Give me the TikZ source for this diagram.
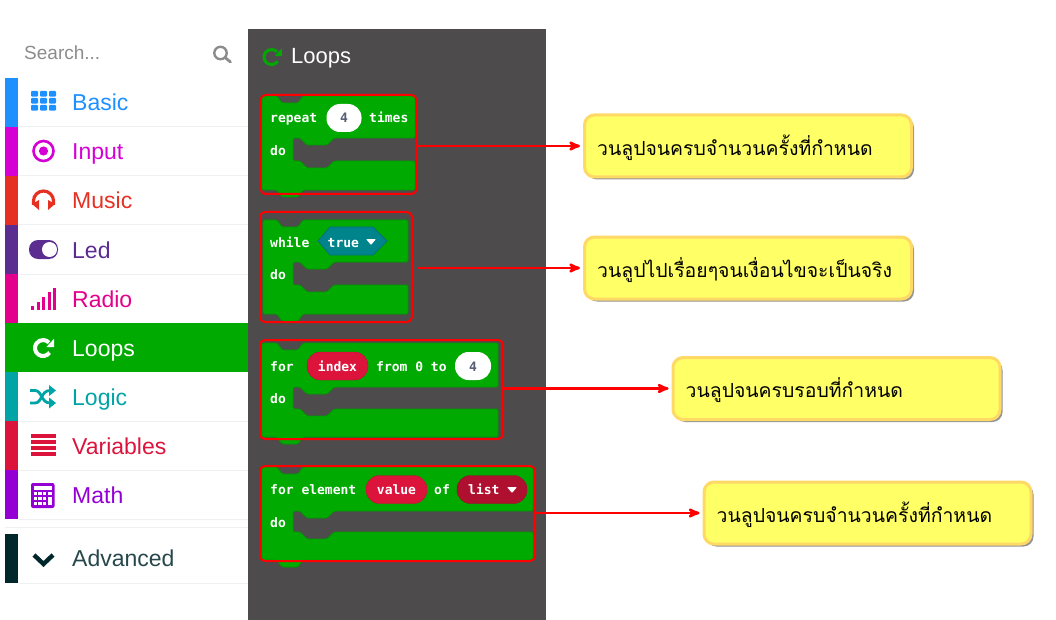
\documentclass[tikz,border=0pt]{standalone}
\usepackage{fontspec}
\usetikzlibrary{arrows,shadows}
\setmainfont{Liberation Sans}
\newfontfamily\thaifont[Script=Thai]{Loma}
\newfontfamily\blockfont{DejaVu Sans Mono}

\definecolor{cBasic}{HTML}{1E90FF}
\definecolor{cInput}{HTML}{D400D4}
\definecolor{cMusic}{HTML}{E63022}
\definecolor{cLed}{HTML}{5C2D91}
\definecolor{cRadio}{HTML}{E3008C}
\definecolor{cLoops}{HTML}{00AA00}
\definecolor{cLogic}{HTML}{00A4A6}
\definecolor{cVariables}{HTML}{DC143C}
\definecolor{cMath}{HTML}{9400D3}
\definecolor{cAdvanced}{HTML}{00272B}
\definecolor{cPanel}{HTML}{4D4B4C}
\definecolor{cEdge}{HTML}{009A00}
\definecolor{cRule}{HTML}{EEF1F3}
\definecolor{cList}{HTML}{B0102F}
\definecolor{cTrue}{HTML}{00848C}
\definecolor{cNum}{HTML}{575E75}
\definecolor{cNote}{HTML}{FFFF66}
\definecolor{cNoteEdge}{HTML}{FFD966}

\tikzset{
  rowtext/.style = {anchor=base west, font=\fontsize{23}{26}\selectfont},
  blocktext/.style = {anchor=base west, text=white, inner sep=0pt,
                      font=\blockfont\bfseries\fontsize{13}{15}\selectfont},
  pill/.style = {rectangle, rounded corners=13.5pt, minimum height=28pt, inner sep=0pt,
                 text height=10pt, text depth=0pt,
                 text=white, font=\blockfont\bfseries\fontsize{13}{15}\selectfont},
  redbox/.style = {rectangle, draw=red, line width=2pt, rounded corners=5pt, inner sep=0pt},
  notebox/.style = {rectangle, draw=cNoteEdge, fill=cNote, line width=3pt, rounded corners=10pt,
                    minimum width=327pt, minimum height=62pt, inner sep=0pt,
                    drop shadow={shadow xshift=2.5pt, shadow yshift=-2.5pt, fill=black!60, opacity=.7}},
  notetext/.style = {anchor=west, inner sep=0pt, font=\thaifont\fontsize{19.4}{24}\selectfont},
  redarrow/.style = {->, >=stealth', draw=red, line width=2.5pt, shorten >=3pt}
}

% x0, x1, top, head bottom, cavity bottom, foot
\newcommand{\blockshape}[6]{
  \draw[fill=cLoops, draw=cEdge, line width=.8pt, rounded corners=1.5pt]
    (#1,#3) -- (277,#3) -- (282,#3+7) -- (298,#3+7) -- (303,#3) -- (#2,#3)
    -- (#2,#4) -- (334,#4) -- (327,#4+7) -- (307,#4+7) -- (300,#4) -- (293,#4)
    -- (293,#5) -- (300,#5) -- (307,#5+7) -- (327,#5+7) -- (334,#5) -- (#2,#5)
    -- (#2,#6) -- (303,#6) -- (298,#6+7) -- (282,#6+7) -- (277,#6) -- (#1,#6) -- cycle;
}
% centre x, centre y, radius, line width, colour
\newcommand{\loopicon}[5]{
  \draw[#5, line width=#4pt] (#1,#2) ++(-35:#3pt) arc[start angle=-35, end angle=-318, radius=#3pt];
  \fill[#5] (#1+1.38*#3,#2-1.15*#3) -- (#1+1.38*#3,#2-.1*#3) -- (#1+.4*#3,#2-.1*#3) -- cycle;
}
% small white drop-down triangle
\newcommand{\droptri}[2]{
  \fill[white, rounded corners=.8pt] (#1-5,#2-3) -- (#1+5,#2-3) -- (#1,#2+3) -- cycle;
}

\begin{document}
\begin{tikzpicture}[x=1pt,y=-1pt]
    \useasboundingbox (0,0) rectangle (1056,620);

    % side menu
    \node[anchor=base west, text=black!45, inner sep=0pt, font=\fontsize{19}{22}\selectfont] (search) at (24,60) {Search...};
    \draw[black!45, line width=2.4pt] (220.5,53) circle[radius=6.2pt];
    \draw[black!45, line width=2.8pt, line cap=round] (225,57.5) -- (230.5,62);

    \foreach \rowname/\rowtop/\rowbase in {Basic/78/111, Input/127/160, Music/176/209, Led/225/258, Radio/274/307,
                                           Logic/372/405, Variables/421/454, Math/470/503} {
        \fill[c\rowname] (5,\rowtop) rectangle (18,\rowtop+49);
        \draw[cRule, line width=1pt] (19,\rowtop+49) -- (248,\rowtop+49);
        \node[rowtext, text=c\rowname, inner sep=0pt] (lbl\rowname) at (72,\rowbase) {\rowname};
    }
    \fill[cLoops] (5,323) rectangle (248,372);
    \node[rowtext, text=white, inner sep=0pt] (lblLoops) at (72,356) {Loops};
    \draw[cRule, line width=1pt] (5,527.5) -- (248,527.5);
    \fill[cAdvanced] (5,534) rectangle (18,583);
    \draw[cRule, line width=1pt] (19,583) -- (248,583);
    \node[rowtext, text=cAdvanced!85!white, inner sep=0pt] (lblAdvanced) at (72,566) {Advanced};

    % menu icons
    \foreach \i in {0,1,2} \foreach \j in {0,1,2}
        \fill[cBasic, rounded corners=1pt] (31+9*\i,91+7*\j) rectangle ++(7,5.6);
    \draw[cInput, line width=2.6pt] (43.5,151) circle[radius=10pt];
    \fill[cInput] (43.5,151) circle[radius=4.6pt];
    \draw[cMusic, line width=3.2pt] (33.5,205) -- (33.5,201) arc[start angle=180, end angle=0, radius=10pt] -- (53.5,205);
    \fill[cMusic] (32,204) -- (39,200) -- (39,210) -- cycle;
    \fill[cMusic] (55,204) -- (48,200) -- (48,210) -- cycle;
    \fill[cLed, rounded corners=9pt] (29,240) rectangle (58,259);
    \fill[white] (49.5,249.5) circle[radius=7.5pt];
    \foreach \bx/\bt in {31/306, 36.5/302, 42/297, 47.5/292, 53/288}
        \fill[cRadio] (\bx,\bt) rectangle (\bx+3,310);
    \loopicon{43}{348}{8}{4}{white}
    \draw[cLogic, line width=2.8pt] (30,390.5) -- (35,390.5) .. controls (42,390.5) and (41,403) .. (50,403);
    \draw[cLogic, line width=2.8pt] (30,403) -- (35,403) .. controls (42,403) and (41,390.5) .. (50,390.5);
    \fill[cLogic] (49,385) -- (56,390.5) -- (49,396) -- cycle;
    \fill[cLogic] (49,397.5) -- (56,403) -- (49,408.5) -- cycle;
    \foreach \sy in {436,442,448,454}
        \fill[cVariables] (31,\sy-1.6) rectangle (56,\sy+1.6);
    \fill[cMath, rounded corners=2pt] (31,483) rectangle (54.5,508);
    \fill[white] (33.5,485.5) rectangle (52,489.5);
    \foreach \i in {0,1,2} \foreach \j in {0,1,2}
        \fill[white] (33.5+4.8*\i,491.8+5*\j) rectangle ++(3.2,3.4);
    \fill[white] (33.5+14.4,491.8) rectangle ++(3.6,3.4);
    \fill[white] (33.5+14.4,496.8) rectangle ++(3.6,8.4);
    \draw[cAdvanced, line width=4.4pt] (34,555) -- (43.5,564) -- (53,555);

    % block panel
    \node[rectangle, fill=cPanel, minimum width=298pt, minimum height=591pt, inner sep=0pt] (panel) at (397,324.5) {};
    \loopicon{271.5}{57}{7.5}{3}{cLoops}
    \node[anchor=base west, text=white, inner sep=0pt, font=\fontsize{22}{26}\selectfont] (panelhead) at (291,64) {Loops};

    % repeat
    \blockshape{262}{415}{96}{138}{161}{190}
    \node[blocktext] (rptword) at (270,123) {repeat};
    \node[pill, fill=white, text=cNum, minimum width=35pt] (rptnum) at (344,118) {4};
    \node[blocktext] (rpttimes) at (369,123) {times};
    \node[blocktext] (rptdo) at (270,155.5) {do};

    % while
    \blockshape{263}{408}{220}{262}{285}{314}
    \node[blocktext] (whlword) at (270,247.5) {while};
    \draw[fill=cTrue, draw=cTrue!85!black, line width=.8pt] (318,241) -- (330,227) -- (373,227) -- (387,241) -- (373,255) -- (330,255) -- cycle;
    \node[blocktext] (whltrue) at (327.5,247.5) {true};
    \droptri{371}{242}
    \node[blocktext] (whldo) at (270,279.5) {do};

    % for index
    \blockshape{262}{498}{343}{387}{409}{437}
    \node[blocktext] (forword) at (270,371) {for};
    \node[pill, fill=cVariables, draw=cVariables!85!black, minimum width=61pt] (forindex) at (337.5,366) {index};
    \node[blocktext] (forfrom) at (376,371) {from 0 to};
    \node[pill, fill=white, text=cNum, minimum width=36pt] (fornum) at (473,366) {4};
    \node[blocktext] (fordo) at (270,403.5) {do};

    % for element
    \blockshape{262}{533}{467}{511}{532}{560}
    \node[blocktext] (elword) at (270,494.5) {for element};
    \node[pill, fill=cVariables, draw=cVariables!85!black, minimum width=61pt] (elvalue) at (396.5,489.5) {value};
    \node[blocktext] (elof) at (434,494.5) {of};
    \node[pill, fill=cList, draw=cList!85!black, minimum width=70pt] (ellist) at (492,489.5) {};
    \node[blocktext] (ellistword) at (468,494.5) {list};
    \droptri{512}{490}
    \node[blocktext] (eldo) at (270,527.5) {do};

    % red frames
    \node[redbox, minimum width=156pt, minimum height=99pt] (rptbox) at (338.5,144.5) {};
    \node[redbox, minimum width=152pt, minimum height=110pt] (whlbox) at (336,267) {};
    \node[redbox, minimum width=243pt, minimum height=99pt] (forbox) at (381.5,389.5) {};
    \node[redbox, minimum width=275pt, minimum height=95pt] (elbox) at (397.5,513.5) {};

    % notes
    \node[notebox] (noteA) at (748,146) {};
    \node[notetext] (noteAtext) at ([xshift=14pt,yshift=-2pt]noteA.west) {วนลูปจนครบจำนวนครั้งที่กำหนด};
    \node[notebox] (noteB) at (748,268) {};
    \node[notetext] (noteBtext) at ([xshift=14pt,yshift=-2pt]noteB.west) {วนลูปไปเรื่อยๆจนเงื่อนไขจะเป็นจริง};
    \node[notebox] (noteC) at (836.5,388.5) {};
    \node[notetext] (noteCtext) at ([xshift=14pt,yshift=-2pt]noteC.west) {วนลูปจนครบรอบที่กำหนด};
    \node[notebox] (noteD) at (867.5,513) {};
    \node[notetext] (noteDtext) at ([xshift=14pt,yshift=-2pt]noteD.west) {วนลูปจนครบจำนวนครั้งที่กำหนด};

    % arrows
    \draw[redarrow] (rptbox.east |- noteA.west) -- (noteA.west);
    \draw[redarrow, shorten <=5pt] (whlbox.east |- noteB.west) -- (noteB.west);
    \draw[redarrow] (forbox.east |- noteC.west) -- (noteC.west);
    \draw[redarrow] (elbox.east |- noteD.west) -- (noteD.west);

\end{tikzpicture}
\end{document}
